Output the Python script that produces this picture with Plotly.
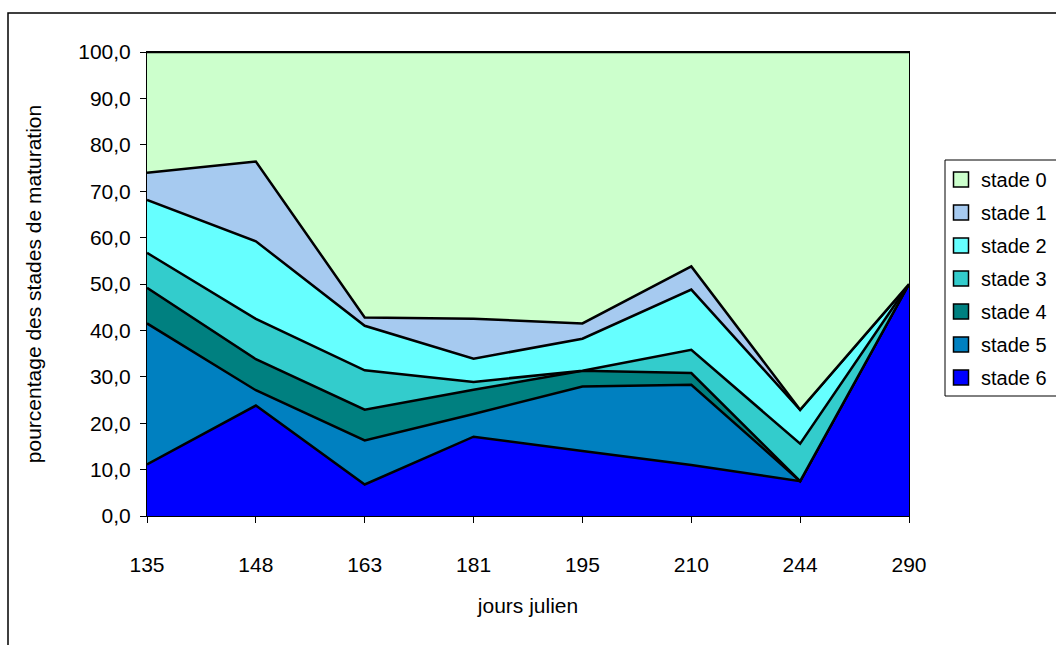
import plotly.graph_objects as go

# Julian days of sampling (category axis)
jours = ["135", "148", "163", "181", "195", "210", "244", "290"]

# Percentage of each maturation stage per sampling date
stade6 = [11.1, 23.8, 6.8, 17.1, 14.0, 11.0, 7.5, 50.0]
stade5 = [30.4, 3.3, 9.5, 4.9, 13.9, 17.3, 0.0, 0.0]
stade4 = [7.7, 6.7, 6.6, 5.2, 3.4, 2.5, 0.0, 0.0]
stade3 = [7.5, 8.7, 8.5, 1.7, 0.0, 5.0, 8.1, 0.0]
stade2 = [11.4, 16.7, 9.6, 5.0, 6.9, 13.0, 7.3, 0.0]
stade1 = [5.9, 17.2, 1.8, 8.6, 3.3, 5.0, 0.0, 0.0]
stade0 = [26.0, 23.6, 57.2, 57.5, 58.5, 46.2, 77.1, 50.0]

series = [
    ("stade 6", stade6, "#0000FF"),
    ("stade 5", stade5, "#0080C0"),
    ("stade 4", stade4, "#008080"),
    ("stade 3", stade3, "#33CCCC"),
    ("stade 2", stade2, "#66FFFF"),
    ("stade 1", stade1, "#A6CAF0"),
    ("stade 0", stade0, "#CCFFCC"),
]

FONT = "Arial, Liberation Sans, sans-serif"
FS = 21

fig = go.Figure()

# Stacked areas, bottom stage first
for name, vals, col in series:
    fig.add_trace(go.Scatter(
        x=jours, y=vals, name=name, stackgroup="one", mode="lines",
        line=dict(color="black", width=2.5), fillcolor=col,
        showlegend=False, hoverinfo="x+y+name",
    ))

# Legend entries with square swatches, stade 0 on top
for name, vals, col in reversed(series):
    fig.add_trace(go.Scatter(
        x=[None], y=[None], name=name, mode="markers", legendgroup=name,
        marker=dict(symbol="square", size=15, color=col,
                    line=dict(color="black", width=1.5)),
    ))

L, R, T, B = 147, 147, 52, 129
W, H = 1056, 645
pw, ph = W - L - R, H - T - B

def px_x(p):
    return (p - L) / pw

def px_y(p):
    return (H - B - p) / ph

fig.update_layout(
    width=W, height=H,
    margin=dict(l=L, r=R, t=T, b=B, autoexpand=False),
    paper_bgcolor="white", plot_bgcolor="white",
    separators=", ",
    font=dict(family=FONT, size=FS, color="black"),
    showlegend=True,
    legend=dict(
        x=px_x(941), y=px_y(160), xanchor="left", yanchor="top",
        bgcolor="rgba(0,0,0,0)", borderwidth=0,
        font=dict(family=FONT, size=20, color="black"),
        tracegroupgap=4, itemsizing="trace",
    ),
    xaxis=dict(
        type="category", range=[0, len(jours) - 1],
        showgrid=False, zeroline=False,
        showline=True, linecolor="black", linewidth=1, mirror=True,
        ticks="outside", ticklen=6, tickcolor="black",
        ticklabelstandoff=24,
        title=dict(text="jours julien", standoff=23,
                   font=dict(family=FONT, size=FS)),
    ),
    yaxis=dict(
        range=[0, 100], dtick=10, tickformat=".1f",
        showgrid=False, zeroline=False,
        showline=True, linecolor="black", linewidth=1, mirror=True,
        ticks="outside", ticklen=6, tickcolor="black",
        ticklabelstandoff=5,
        title=dict(text="pourcentage des stades de maturation", standoff=30,
                   font=dict(family=FONT, size=FS)),
    ),
    shapes=[
        # chart frame, running past the right and bottom edges
        dict(type="rect", xref="paper", yref="paper",
             x0=px_x(8), x1=px_x(1070), y0=px_y(13), y1=px_y(660),
             line=dict(color="black", width=1.5), fillcolor="rgba(0,0,0,0)",
             layer="below"),
        # legend frame, open past the right edge
        dict(type="rect", xref="paper", yref="paper",
             x0=px_x(945), x1=px_x(1080), y0=px_y(160), y1=px_y(396),
             line=dict(color="black", width=1), fillcolor="white",
             layer="above"),
    ],
)

fig.write_html("out.html")
